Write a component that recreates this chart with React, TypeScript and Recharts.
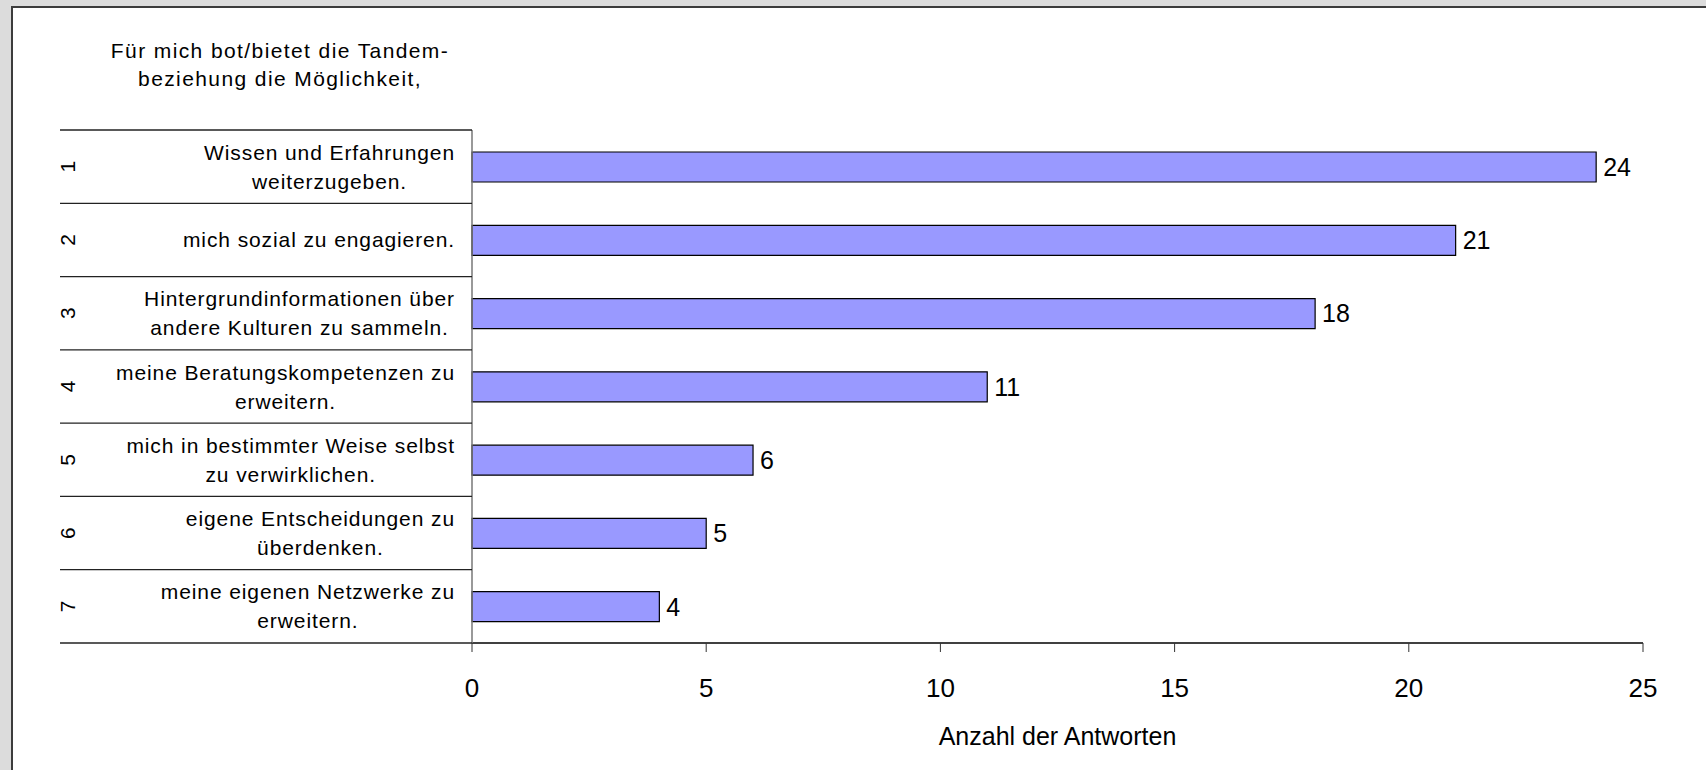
import React from 'react';
import { BarChart, Bar, XAxis, YAxis, LabelList } from 'recharts';

const categoryNumbers = ['1', '2', '3', '4', '5', '6', '7'];
const categoryLabels: string[][] = [
  ['Wissen und Erfahrungen', 'weiterzugeben.'],
  ['mich sozial zu engagieren.'],
  ['Hintergrundinformationen über', 'andere Kulturen zu sammeln.'],
  ['meine Beratungskompetenzen zu', 'erweitern.'],
  ['mich in bestimmter Weise selbst', 'zu verwirklichen.'],
  ['eigene Entscheidungen zu', 'überdenken.'],
  ['meine eigenen Netzwerke zu', 'erweitern.'],
];
const answerCounts = [24, 21, 18, 11, 6, 5, 4];
const xTicks = [0, 5, 10, 15, 20, 25];
const titleLines = ['Für mich bot/bietet die Tandem-', 'beziehung die Möglichkeit,'];
const xAxisTitle = 'Anzahl der Antworten';

const data = categoryNumbers.map((id, i) => ({ id, value: answerCounts[i] }));

const W = 1706;
const H = 770;
const TABLE_L = 60;
const PLOT_L = 472;
const PLOT_R = 1643;
const PLOT_T = 130;
const PLOT_B = 643;
const TEXT_RIGHT = 455;
const FONT = '"Liberation Sans", Arial, sans-serif';
const CAT_FS = 21;
const CAT_LS = 0.9;
const LINE_H = 29;

let ctx: CanvasRenderingContext2D | null = null;
function measure(s: string, fs: number, ls: number): number {
  if (!ctx) {
    const c = document.createElement('canvas');
    ctx = c.getContext('2d');
  }
  if (!ctx) return s.length * fs * 0.5;
  ctx.font = `${fs}px "Liberation Sans"`;
  return ctx.measureText(s).width + ls * s.length;
}

const CategoryTick = (props: any) => {
  const { y, payload, index } = props;
  const i = typeof index === 'number' ? index : categoryNumbers.indexOf(payload.value);
  const half = (PLOT_B - PLOT_T) / categoryNumbers.length / 2;
  const lines = categoryLabels[i] || [];
  const maxW = Math.max(...lines.map((l) => measure(l, CAT_FS, CAT_LS)));
  const cx = TEXT_RIGHT - maxW / 2;
  return (
    <g>
      <line x1={TABLE_L} x2={PLOT_L} y1={y - half} y2={y - half} stroke="#222" strokeWidth={1.3} />
      {i === categoryNumbers.length - 1 && (
        <line x1={TABLE_L} x2={PLOT_L} y1={y + half} y2={y + half} stroke="#222" strokeWidth={1.3} />
      )}
      <text
        transform={`translate(67, ${y}) rotate(-90)`}
        textAnchor="middle"
        dominantBaseline="central"
        fontSize={CAT_FS}
        fontFamily={FONT}
        fill="#000"
      >
        {payload.value}
      </text>
      {lines.map((ln, k) => (
        <text
          key={k}
          x={cx}
          y={y + (k - (lines.length - 1) / 2) * LINE_H}
          textAnchor="middle"
          dominantBaseline="central"
          fontSize={CAT_FS}
          fontFamily={FONT}
          fill="#000"
          style={{ letterSpacing: `${CAT_LS}px` }}
        >
          {ln}
        </text>
      ))}
    </g>
  );
};

export default function App() {
  return (
    <div style={{ position: 'relative', width: W, height: H, background: '#dcdcdc', overflow: 'hidden' }}>
      <style>{'body{margin:0;overflow:hidden}'}</style>
      <div
        style={{
          position: 'absolute',
          left: 11,
          top: 6,
          right: -10,
          bottom: -10,
          background: '#fff',
          borderLeft: '2px solid #3c3c3c',
          borderTop: '2px solid #3c3c3c',
        }}
      />
      <div
        style={{
          position: 'absolute',
          left: 80,
          width: 400,
          top: 37,
          textAlign: 'center',
          fontFamily: FONT,
          fontSize: 21,
          lineHeight: '28px',
          letterSpacing: '1.4px',
          color: '#000',
        }}
      >
        {titleLines.map((t, k) => (
          <div key={k}>{t}</div>
        ))}
      </div>
      <div style={{ position: 'absolute', left: 0, top: 0 }}>
        <BarChart
          width={W}
          height={H}
          data={data}
          layout="vertical"
          margin={{ top: PLOT_T, right: W - PLOT_R, left: TABLE_L, bottom: 0 }}
        >
          <XAxis
            type="number"
            domain={[0, 25]}
            ticks={xTicks}
            interval={0}
            height={H - PLOT_B}
            tickSize={9}
            tickMargin={27}
            axisLine={{ stroke: '#000', strokeWidth: 1.5 }}
            tickLine={{ stroke: '#333', strokeWidth: 1 }}
            tick={{ fontSize: 26, fill: '#000', fontFamily: FONT }}
            label={{
              value: xAxisTitle,
              position: 'insideBottom',
              offset: 25,
              fill: '#000',
              fontSize: 25,
              fontFamily: FONT,
            }}
          />
          <YAxis
            type="category"
            dataKey="id"
            width={PLOT_L - TABLE_L}
            interval={0}
            tickLine={false}
            axisLine={{ stroke: '#777', strokeWidth: 1.5 }}
            tick={<CategoryTick />}
          />
          <Bar dataKey="value" fill="#9999ff" stroke="#000" strokeWidth={1.2} barSize={30} isAnimationActive={false}>
            <LabelList
              dataKey="value"
              position="right"
              offset={7}
              fill="#000"
              fontSize={25}
              fontFamily={FONT}
            />
          </Bar>
        </BarChart>
      </div>
    </div>
  );
}
